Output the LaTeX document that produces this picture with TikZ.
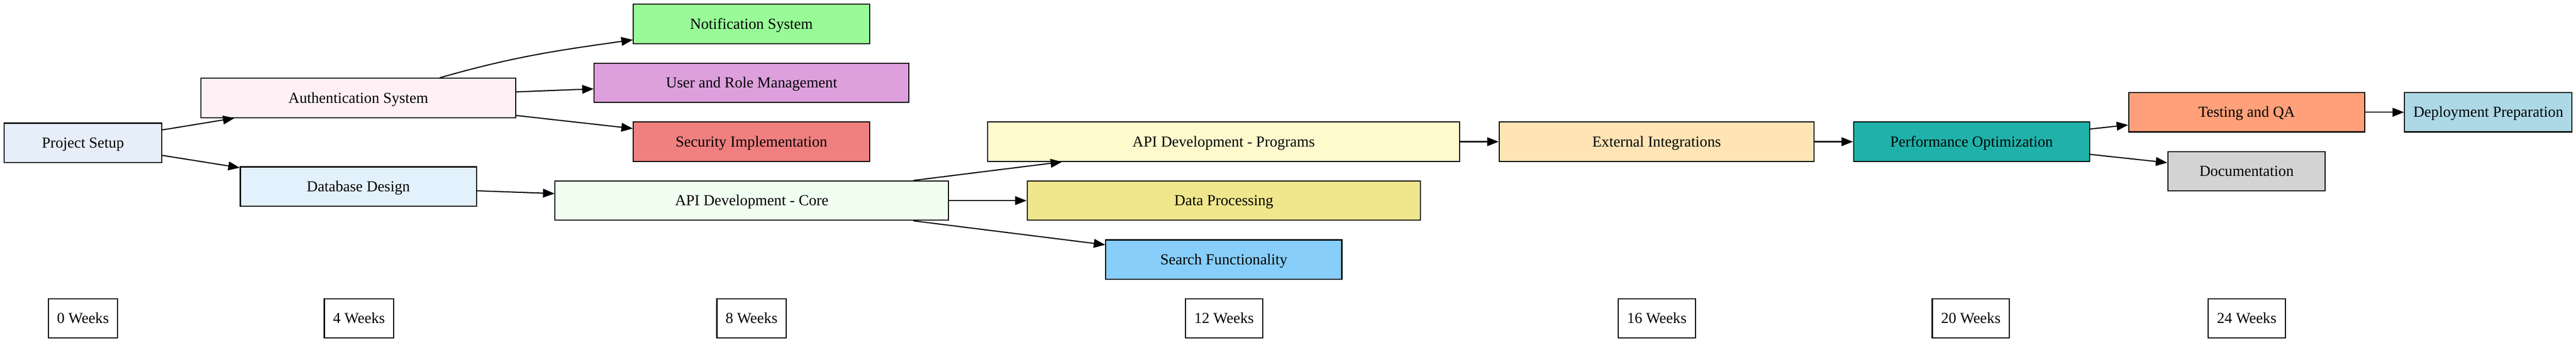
\documentclass[tikz,border=0pt]{standalone}
\usepackage{fontspec}
\setmainfont{Liberation Serif}
\usetikzlibrary{arrows.meta}
\definecolor{setupblue}{HTML}{E6EEFA}
\definecolor{authpink}{HTML}{FFF0F5}
\definecolor{dbblue}{HTML}{E3F1FC}
\definecolor{corehoney}{HTML}{F0FFF0}
\definecolor{notifgreen}{HTML}{98FB98}
\definecolor{roleplum}{HTML}{DDA0DD}
\definecolor{securered}{HTML}{F08080}
\definecolor{progyellow}{HTML}{FFFACD}
\definecolor{datakhaki}{HTML}{F0E68C}
\definecolor{searchsky}{HTML}{87CEFA}
\definecolor{extmoccasin}{HTML}{FFE4B5}
\definecolor{perfteal}{HTML}{20B2AA}
\definecolor{testsalmon}{HTML}{FFA07A}
\definecolor{docgray}{HTML}{D3D3D3}
\definecolor{deployblue}{HTML}{ADD8E6}
\tikzset{
  task/.style={draw=black, line width=1pt, minimum height=36pt, inner xsep=8pt,
    text height=12pt, text depth=3pt, font=\fontsize{14pt}{16pt}\selectfont},
  week/.style={task, fill=white},
  dep/.style={line width=1pt, -{Triangle[length=10.5pt,width=8pt]}},
}
\begin{document}
\begin{tikzpicture}[x=1pt,y=1pt]
\useasboundingbox (0,0) rectangle (2357.25,-330);
% tasks
\node[task, fill=setupblue, minimum width=144pt] (proj) at (75.9,-130.9) {Project Setup};
\node[task, fill=authpink, minimum width=288pt] (auth) at (327.9,-89.8) {Authentication System};
\node[task, fill=dbblue, minimum width=216pt] (db) at (327.9,-171) {Database Design};
\node[task, fill=notifgreen, minimum width=216pt] (notif) at (687.6,-21.9) {Notification System};
\node[task, fill=roleplum, minimum width=288pt] (roles) at (687.75,-75.9) {User and Role Management};
\node[task, fill=securered, minimum width=216pt] (security) at (687.6,-129.9) {Security Implementation};
\node[task, fill=corehoney, minimum width=360pt] (apicore) at (687.9,-183.9) {API Development - Core};
\node[task, fill=progyellow, minimum width=432pt] (apiprog) at (1119.75,-129.9) {API Development - Programs};
\node[task, fill=datakhaki, minimum width=360pt] (dataproc) at (1119.9,-183.9) {Data Processing};
\node[task, fill=searchsky, minimum width=216pt] (search) at (1119.9,-237.9) {Search Functionality};
\node[task, fill=extmoccasin, minimum width=288pt] (external) at (1515.9,-129.9) {External Integrations};
\node[task, fill=perfteal, minimum width=216pt] (perf) at (1804.1,-129.9) {Performance Optimization};
\node[task, fill=testsalmon, minimum width=216pt] (testing) at (2055.9,-102.9) {Testing and QA};
\node[task, fill=docgray, minimum width=144pt] (docs) at (2055.75,-156.9) {Documentation};
\node[task, fill=deployblue] (deploy) at (2277,-102.9) {Deployment Preparation};
% timeline
\foreach \x/\w in {75.9/0, 328.5/4, 687.75/8, 1120.1/12, 1516.1/16, 1803.4/20, 2055.9/24}
  \node[week] (w\w) at (\x,-291.9) {\w\ Weeks};
% dependencies
\draw[dep] (proj) -- (auth);
\draw[dep] (proj) -- (db);
\draw[dep] ([xshift=74.5pt]auth.north) to[out=16,in=188] ([yshift=-14.6pt]notif.west);
\draw[dep] (auth) -- (roles);
\draw[dep] (auth) -- (security);
\draw[dep] (db) -- (apicore);
\draw[dep] (apicore) -- (apiprog);
\draw[dep] (apicore) -- (dataproc);
\draw[dep] (apicore) -- (search);
\draw[dep] (apiprog) -- (external);
\draw[dep] (external) -- (perf);
\draw[dep] (perf) -- (testing);
\draw[dep] (perf) -- (docs);
\draw[dep] (testing) -- (deploy);
\end{tikzpicture}
\end{document}
